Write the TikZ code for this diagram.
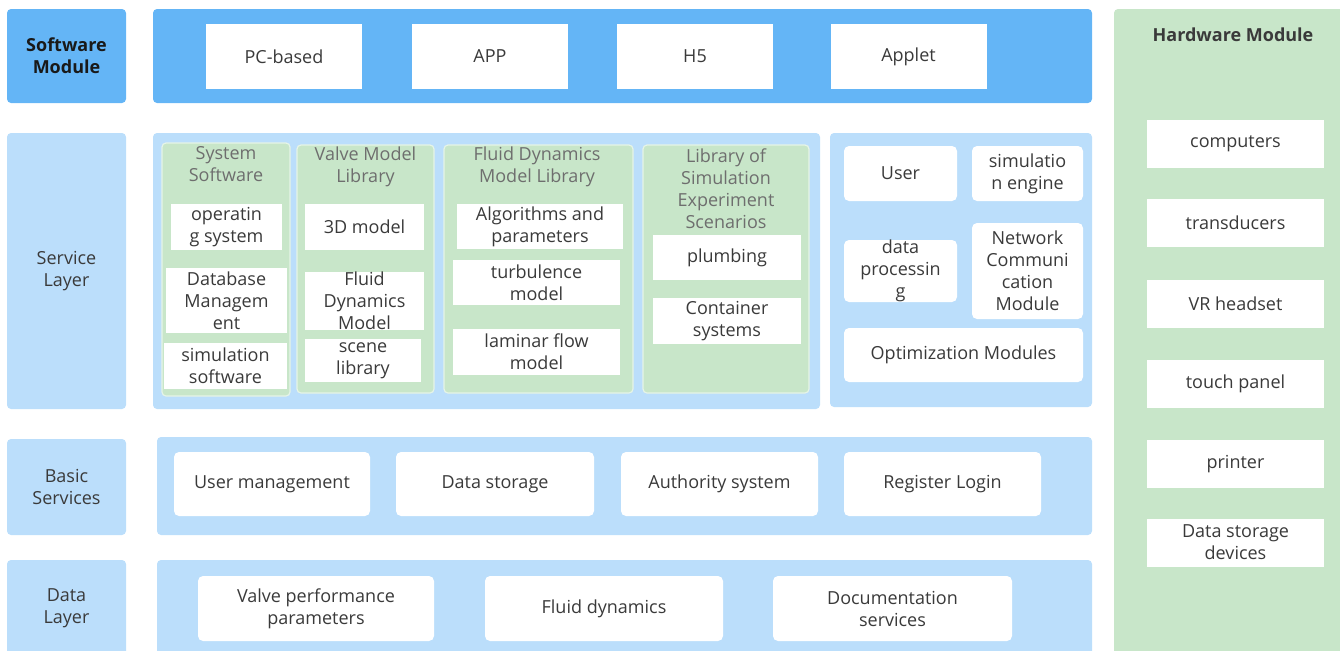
\documentclass[tikz,border=0pt]{standalone}
\usepackage{fontspec}
\setmainfont{Open Sans}
\definecolor{darkblue}{HTML}{64B5F6}
\definecolor{paleblue}{HTML}{BBDEFB}
\definecolor{palegreen}{HTML}{C8E6C9}
\definecolor{ink}{HTML}{3A3A3A}
\definecolor{greyink}{HTML}{6E6E6E}

\begin{document}
\begin{tikzpicture}[x=0.5pt, y=-0.5pt, font=\fontsize{9}{11}\selectfont,
    sz/.style 2 args={minimum width=#1*0.5pt, minimum height=#2*0.5pt},
    layer/.style={fill=paleblue, rounded corners=2pt, inner sep=0pt, text=ink, align=center},
    panel/.style={fill=paleblue, rounded corners=2pt, inner sep=0pt},
    group/.style={fill=palegreen, draw=white!55!palegreen, line width=0.6pt, rounded corners=2pt, inner sep=0pt},
    item/.style={fill=white, inner sep=0pt, text=ink, align=center},
    ritem/.style={item, rounded corners=2.5pt},
    title/.style={text=greyink, align=center, inner sep=0pt}]

    \useasboundingbox (0,0) rectangle (1340,650);

    % layer labels
    \node[layer, sz={119}{94}, fill=darkblue, text=black!90, font=\fontsize{9}{11}\selectfont\bfseries] (swmod) at (66.5,56) {Software\\Module};
    \node[layer, sz={119}{276}] (svc) at (66.5,271) {Service\\Layer};
    \node[layer, sz={119}{96}] (basic) at (66.5,487) {Basic\\Services};
    \node[layer, sz={119}{96}] (data) at (66.5,608) {Data\\Layer};

    % software module
    \node[panel, sz={939}{94}, fill=darkblue] (swpanel) at (622.5,56) {};
    \node[item, sz={156}{65}] (pc) at (284,56.5) {PC-based};
    \node[item, sz={156}{65}] (app) at (490,56.5) {APP};
    \node[item, sz={156}{65}] (h5) at (695,56.5) {H5};
    \node[item, sz={156}{65}] (applet) at (908.5,56.5) {Applet};

    % service layer
    \node[panel, sz={667}{276}] (svcpanel) at (486.5,271) {};
    \node[panel, sz={262}{274}] (corepanel) at (961,270) {};

    \node[group, sz={128}{253}] (sys) at (226,269.5) {};
    \node[title] (systitle) at (226,164) {System\\Software};
    \node[item, sz={111}{46}] (os) at (226.5,227) {operatin\\g system};
    \node[item, sz={121}{65}] (dbm) at (226.5,300.5) {Database\\Managem\\ent};
    \node[item, sz={123}{46}] (simsw) at (225.5,366) {simulation\\software};

    \node[group, sz={137}{248}] (valve) at (365.5,269) {};
    \node[title] (valvetitle) at (365.5,167) {Valve Model\\Library};
    \node[item, sz={119}{46}] (m3d) at (364.5,227) {3D model};
    \node[item, sz={119}{56}] (fdm) at (364.5,301) {Fluid\\Dynamics\\Model};
    \node[item, sz={116}{43}] (scene) at (363,360.5) {scene\\library};

    \node[group, sz={189}{248}] (fluid) at (538.5,269) {};
    \node[title] (fluidtitle) at (537,167) {Fluid Dynamics\\Model Library};
    \node[item, sz={166}{45}] (algo) at (540,226.5) {Algorithms and\\parameters};
    \node[item, sz={167}{45}] (turb) at (536.5,282.5) {turbulence\\model};
    \node[item, sz={167}{46}] (lam) at (536.5,352) {laminar flow\\model};

    \node[group, sz={166}{248}] (scen) at (726,269) {};
    \node[title] (scentitle) at (726,189) {Library of\\Simulation\\Experiment\\Scenarios};
    \node[item, sz={148}{45}] (plumb) at (727,257.5) {plumbing};
    \node[item, sz={148}{46}] (cont) at (727,321) {Container\\systems};

    \node[ritem, sz={113}{55}] (user) at (900.5,173.5) {User};
    \node[ritem, sz={111}{55}] (simeng) at (1027.5,173.5) {simulatio\\n engine};
    \node[ritem, sz={113}{54}] (datap) at (900.5,271) {data\\processin\\g};
    \node[ritem, sz={111}{96}] (netcom) at (1027.5,271) {Network\\Communi\\cation\\Module};
    \node[ritem, sz={239}{54}] (optim) at (963.5,355) {Optimization Modules};

    % basic services
    \node[panel, sz={935}{98}] (basicpanel) at (624.5,486) {};
    \node[ritem, sz={196}{64}] (usrm) at (272,484) {User management};
    \node[ritem, sz={198}{64}] (dstor) at (495,484) {Data storage};
    \node[ritem, sz={197}{64}] (auth) at (719.5,484) {Authority system};
    \node[ritem, sz={197}{64}] (reglog) at (942.5,484) {Register Login};

    % data layer
    \node[panel, sz={935}{96}] (datapanel) at (624.5,608) {};
    \node[ritem, sz={236}{65}] (vperf) at (316,608.5) {Valve performance\\parameters};
    \node[ritem, sz={238}{65}] (fdyn) at (604,608.5) {Fluid dynamics};
    \node[ritem, sz={239}{65}] (docs) at (892.5,608.5) {Documentation\\services};

    % hardware module
    \node[group, sz={236}{651}, draw=none] (hw) at (1232,334.5) {};
    \node[title, text=ink, font=\fontsize{9}{11}\selectfont\bfseries] (hwtitle) at (1233,35) {Hardware Module};
    \node[item, sz={177}{48}] (comp) at (1235.5,144) {computers};
    \node[item, sz={177}{48}] (trans) at (1235.5,223) {transducers};
    \node[item, sz={177}{48}] (vr) at (1235.5,304) {VR headset};
    \node[item, sz={177}{48}] (touch) at (1235.5,384) {touch panel};
    \node[item, sz={177}{48}] (printer) at (1235.5,464) {printer};
    \node[item, sz={177}{48}] (dsdev) at (1235.5,542.5) {Data storage\\devices};
\end{tikzpicture}
\end{document}
